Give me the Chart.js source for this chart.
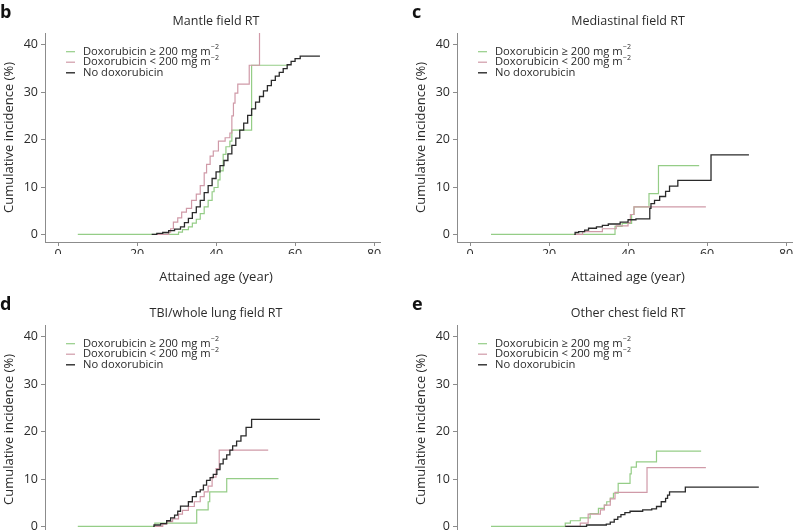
<!DOCTYPE html>
<html><head><meta charset="utf-8">
<script src="https://cdn.jsdelivr.net/npm/chart.js@4.4.1/dist/chart.umd.min.js"></script>
<style>
html,body{margin:0;padding:0;background:#fff;width:800px;height:530px;overflow:hidden;position:relative}
canvas{position:absolute}
</style></head><body>
<canvas id="pb" width="400" height="290" style="left:0;top:0"></canvas>
<canvas id="pc" width="400" height="290" style="left:412px;top:0"></canvas>
<canvas id="pd" width="400" height="290" style="left:0;top:292px"></canvas>
<canvas id="pe" width="400" height="290" style="left:412px;top:292px"></canvas>
<script>
// ---- Data (attained age in years, cumulative incidence in %) ----
const xTicks = [0, 20, 40, 60, 80];
const yTicks = [0, 10, 20, 30, 40];
const legendLabels = ['Doxorubicin \u2265 200 mg m', 'Doxorubicin < 200 mg m', 'No doxorubicin'];
const legendSup = ['\u22122', '\u22122', ''];
const panelLetters = ['b', 'c', 'd', 'e'];
const panelTitles = ['Mantle field RT', 'Mediastinal field RT', 'TBI/whole lung field RT', 'Other chest field RT'];

// b: Mantle field RT
const mantleHighAge = [5, 30.5, 31.5, 33, 34, 35, 36, 37, 38, 39, 39.5, 40.5, 41, 41.8, 42.5, 43.5, 44, 49, 58.3];
const mantleHighInc = [0, 0.5, 1, 1.6, 2.4, 3.2, 4.4, 5.8, 7.2, 9, 9.9, 11.5, 13.4, 16.9, 18.5, 19.7, 22, 35.7, 35.7];
const mantleLowAge = [25, 28, 28.5, 29.2, 30.3, 31.3, 32.5, 33.8, 35, 36, 37, 37.6, 38.5, 39.3, 40.6, 42.3, 43.5, 44, 44.4, 44.8, 45.5, 48.4, 51];
const mantleLowInc = [0, 0.5, 1.2, 2.6, 3.5, 4.7, 5.5, 7.2, 8.5, 10.3, 13, 14.8, 16.5, 17.6, 19.7, 20.4, 21.4, 25, 27.7, 29.8, 31.7, 35.7, 60];
const mantleNoneAge = [23.7, 25, 26.5, 28, 29.5, 31, 32, 33, 34, 35, 36, 37, 38, 39, 40, 41, 42, 43, 44, 45, 46, 47, 48, 49, 50, 51, 52, 53, 54, 55, 56, 57, 58, 59, 60, 61.3, 66.3];
const mantleNoneInc = [0, 0.2, 0.4, 0.8, 1.1, 1.6, 2.5, 3.4, 4.6, 5.8, 7.2, 8.8, 10.3, 11.8, 13.2, 14.5, 15.6, 17, 18.8, 20.3, 22, 23.5, 25.1, 26.5, 27.9, 29.1, 30.3, 31.4, 32.5, 33.4, 34.2, 35, 35.8, 36.5, 37.1, 37.6, 37.6];

// c: Mediastinal field RT
const medHighAge = [5.3, 36.7, 38.5, 40.9, 41.5, 45.3, 47.7, 58];
const medHighInc = [0, 1.7, 2.3, 4.2, 5.8, 8.6, 14.5, 14.5];
const medLowAge = [26.5, 28.5, 33.5, 37, 40, 40.6, 41.5, 59.7];
const medLowInc = [0, 0.6, 1.2, 1.8, 2.5, 4.2, 5.8, 5.8];
const medNoneAge = [26.4, 26.6, 27.5, 29, 30, 32, 33.5, 35, 38, 40, 42, 45.5, 45.8, 46.7, 48, 49.5, 50.5, 52.6, 61, 70.6];
const medNoneInc = [0, 0.4, 0.6, 0.9, 1.3, 1.6, 1.9, 2.2, 2.6, 3.1, 3.3, 5.5, 6.5, 7.2, 8, 9.1, 10.2, 11.4, 16.8, 16.8];

// d: TBI/whole lung field RT
const lungHighAge = [5, 24.5, 35.1, 38, 38.4, 42.7, 55.8];
const lungHighInc = [0, 0.7, 3.5, 5.2, 7.3, 10.1, 10.1];
const lungLowAge = [24.5, 26.5, 27.5, 29, 30.5, 31.5, 33, 34.5, 36, 37, 38, 39, 40, 40.8, 53.2];
const lungLowInc = [0, 0.5, 1, 1.6, 2.6, 3.4, 4.2, 5.2, 6.3, 7.3, 8.5, 10.4, 12.2, 16.1, 16.1];
const lungNoneAge = [24.1, 24.3, 26, 27.5, 28.5, 29.5, 30.3, 31, 33, 34, 35, 36, 36.8, 37.6, 38.5, 39.3, 40.2, 41, 41.8, 42.7, 43.5, 44.2, 45.2, 46.3, 47.6, 49, 66.3];
const lungNoneInc = [0, 0.3, 0.6, 1.2, 1.8, 2.4, 3.2, 4.3, 5.2, 6.3, 7.3, 7.7, 8.7, 9.7, 10.3, 11, 12, 13.2, 14.2, 15.1, 16.1, 17, 18, 19.1, 20.9, 22.6, 22.6];

// e: Other chest field RT
const chestHighAge = [5.3, 24.1, 25.4, 27.9, 30.4, 32.5, 34, 34.6, 35.5, 36.3, 37.5, 40.5, 40.8, 42.1, 47.2, 58.5];
const chestHighInc = [0, 0.7, 1.2, 1.8, 2.7, 3.8, 4.5, 5.2, 6, 7, 9.1, 11.1, 12.5, 13.6, 15.9, 15.9];
const chestLowAge = [24.1, 27.9, 29.9, 33, 34, 35.5, 36.7, 44.8, 59.7];
const chestLowInc = [0, 0.7, 2.6, 3.5, 4.5, 5.8, 7.2, 12.4, 12.4];
const chestNoneAge = [24.1, 29.5, 34.5, 35.5, 36.5, 37.4, 38.2, 39.2, 40.5, 43.7, 46, 47.2, 48.4, 49.5, 50, 50.5, 54.5, 73.1];
const chestNoneInc = [0, 0.3, 0.5, 0.9, 1.5, 2, 2.5, 2.9, 3.2, 3.5, 3.7, 4.2, 5.2, 5.9, 6.6, 7.3, 8.3, 8.3];

// ---- Styling ----
const FONT = '"Open Sans", "DejaVu Sans", sans-serif';
const COL_HIGH = '#95cd87';
const COL_LOW = '#d09aa8';
const COL_NONE = '#2a2a2a';
const AXIS_COL = '#8c8c8c';
const TEXT_COL = '#2b2b2b';

function pts(xs, ys) { return xs.map((x, i) => ({ x: x, y: ys[i] })); }

const panelText = {
  id: 'panelText',
  afterDraw(chart, args, opts) {
    const ctx = chart.ctx;
    const ca = chart.chartArea;
    ctx.save();
    ctx.fillStyle = '#111';
    ctx.textBaseline = 'alphabetic';
    ctx.textAlign = 'left';
    ctx.font = 'bold 18px ' + FONT;
    ctx.fillText(opts.letter, 0, 18);
    ctx.fillStyle = TEXT_COL;
    ctx.textAlign = 'center';
    ctx.textBaseline = 'middle';
    ctx.font = '12.5px ' + FONT;
    ctx.fillText(opts.title, 216, 21);
    ctx.font = '13px ' + FONT;
    ctx.fillText('Attained age (year)', 216, 277);
    ctx.save();
    ctx.translate(9, (ca.top + ca.bottom) / 2);
    ctx.rotate(-Math.PI / 2);
    ctx.fillText('Cumulative incidence (%)', 0, 0);
    ctx.restore();
    // legend
    const cols = [COL_HIGH, COL_LOW, COL_NONE];
    const rows = [51.7, 62.2, 72.8];
    for (let i = 0; i < 3; i++) {
      ctx.strokeStyle = cols[i];
      ctx.lineWidth = i === 2 ? 1.4 : 1.2;
      ctx.beginPath();
      ctx.moveTo(66, rows[i]);
      ctx.lineTo(75, rows[i]);
      ctx.stroke();
      ctx.textAlign = 'left';
      ctx.textBaseline = 'middle';
      ctx.font = '11.2px ' + FONT;
      ctx.fillStyle = TEXT_COL;
      ctx.fillText(legendLabels[i], 83, rows[i]);
      if (legendSup[i]) {
        const w = ctx.measureText(legendLabels[i]).width;
        ctx.font = '7px ' + FONT;
        ctx.fillText(legendSup[i], 83 + w + 0.5, rows[i] - 4.5);
      }
    }
    ctx.restore();
  }
};

function makePanel(id, idx, high, low, none) {
  new Chart(document.getElementById(id), {
    type: 'line',
    data: {
      datasets: [
        { data: pts(none[0], none[1]), borderColor: COL_NONE, borderWidth: 1.3, stepped: 'before', pointRadius: 0, order: 0 },
        { data: pts(low[0], low[1]), borderColor: COL_LOW, borderWidth: 1.2, stepped: 'before', pointRadius: 0, order: 1 },
        { data: pts(high[0], high[1]), borderColor: COL_HIGH, borderWidth: 1.2, stepped: 'before', pointRadius: 0, order: 2 }
      ]
    },
    options: {
      responsive: false,
      animation: false,
      devicePixelRatio: 1,
      events: [],
      layout: { padding: { left: 0, top: 33, right: 20, bottom: 36 } },
      plugins: {
        legend: { display: false },
        tooltip: { enabled: false },
        panelText: { letter: panelLetters[idx], title: panelTitles[idx] }
      },
      scales: {
        x: {
          type: 'linear', min: -3.3, max: 81.5,
          afterFit(s) { s.height = 12; },
          afterBuildTicks(s) { s.ticks = xTicks.map(v => ({ value: v })); },
          border: { display: true, color: AXIS_COL, width: 1 },
          grid: { drawOnChartArea: false, drawTicks: true, tickLength: 4, color: AXIS_COL },
          ticks: { maxRotation: 0, autoSkip: false, padding: 1, color: TEXT_COL, font: { family: FONT, size: 12.5 } }
        },
        y: {
          type: 'linear', min: -1.6, max: 42.5,
          afterFit(s) { s.width = 45; },
          afterBuildTicks(s) { s.ticks = yTicks.map(v => ({ value: v })); },
          border: { display: true, color: AXIS_COL, width: 1 },
          grid: { drawOnChartArea: false, drawTicks: true, tickLength: 4, color: AXIS_COL },
          ticks: { padding: 3, color: TEXT_COL, font: { family: FONT, size: 12.5 } }
        }
      }
    },
    plugins: [panelText]
  });
}

makePanel('pb', 0, [mantleHighAge, mantleHighInc], [mantleLowAge, mantleLowInc], [mantleNoneAge, mantleNoneInc]);
makePanel('pc', 1, [medHighAge, medHighInc], [medLowAge, medLowInc], [medNoneAge, medNoneInc]);
makePanel('pd', 2, [lungHighAge, lungHighInc], [lungLowAge, lungLowInc], [lungNoneAge, lungNoneInc]);
makePanel('pe', 3, [chestHighAge, chestHighInc], [chestLowAge, chestLowInc], [chestNoneAge, chestNoneInc]);
</script>
</body></html>
